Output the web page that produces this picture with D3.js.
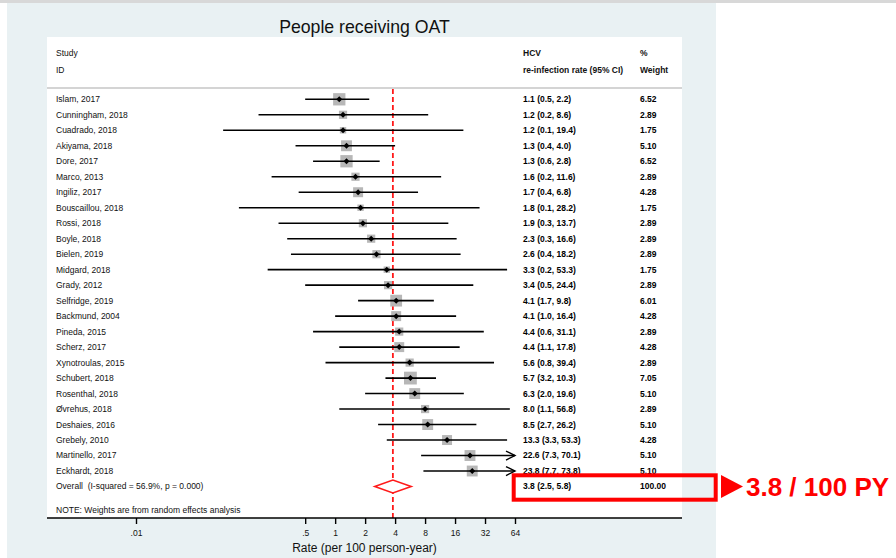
<!DOCTYPE html>
<html>
<head>
<meta charset="utf-8">
<script src="https://cdn.jsdelivr.net/npm/d3@7"></script>
<style>
  body { margin: 0; background: #fff; }
  svg { display: block; font-family: "Liberation Sans", Arial, sans-serif; }
</style>
</head>
<body>
<div id="chart"></div>
<script>
// study rows, top to bottom
const studies = ["Islam, 2017", "Cunningham, 2018", "Cuadrado, 2018", "Akiyama, 2018", "Dore, 2017",
    "Marco, 2013", "Ingiliz, 2017", "Bouscaillou, 2018", "Rossi, 2018", "Boyle, 2018", "Bielen, 2019",
    "Midgard, 2018", "Grady, 2012", "Selfridge, 2019", "Backmund, 2004", "Pineda, 2015", "Scherz, 2017",
    "Xynotroulas, 2015", "Schubert, 2018", "Rosenthal, 2018", "Øvrehus, 2018", "Deshaies, 2016",
    "Grebely, 2010", "Martinello, 2017", "Eckhardt, 2018"];
const rate = [1.1, 1.2, 1.2, 1.3, 1.3, 1.6, 1.7, 1.8, 1.9, 2.3, 2.6, 3.3, 3.4, 4.1, 4.1, 4.4, 4.4,
    5.6, 5.7, 6.3, 8.0, 8.5, 13.3, 22.6, 23.8];
const lower = [0.5, 0.17, 0.075, 0.4, 0.6, 0.23, 0.43, 0.108, 0.27, 0.33, 0.36, 0.21, 0.5, 1.7, 1.0,
    0.6, 1.1, 0.8, 3.2, 2.0, 1.1, 2.7, 3.3, 7.3, 7.7];
const upper = [2.2, 8.6, 19.4, 4.0, 2.8, 11.6, 6.8, 28.2, 13.7, 16.6, 18.2, 53.3, 24.4, 9.8, 16.4,
    31.1, 17.8, 39.4, 10.3, 19.6, 56.8, 26.2, 53.3, 70.1, 73.8];
const weight = [6.52, 2.89, 1.75, 5.10, 6.52, 2.89, 4.28, 1.75, 2.89, 2.89, 2.89, 1.75, 2.89, 6.01,
    4.28, 2.89, 4.28, 2.89, 7.05, 5.10, 2.89, 5.10, 4.28, 5.10, 5.10];

const overall = { rate: 3.8, lower: 2.5, upper: 5.8, weight: 100 };
const overallLabel = "Overall  (I-squared = 56.9%, p = 0.000)";
const xTicks = [0.01, 0.5, 1, 2, 4, 8, 16, 32, 64];
const note = "NOTE: Weights are from random effects analysis";

const width = 896, height = 558;
const panel = { left: 47, right: 682, top: 37, bottom: 518 };
const colStudy = 56, colRate = 523, colWeight = 640;

const rows = studies.map((s, i) => ({
    name: s, rate: rate[i], lower: lower[i], upper: upper[i], weight: weight[i]
}));

const x = d3.scaleLog().base(2)
    .domain([d3.min(xTicks), d3.max(xTicks)])
    .range([136, 515]);
const xMax = d3.max(xTicks);

const y = d3.scalePoint()
    .domain(d3.range(rows.length + 1))
    .range([99.3, 486.5]);

const boxSize = d3.scaleSqrt().domain([0, 7.05]).range([0, 12.8]);

const svg = d3.select("#chart").append("svg")
    .attr("width", width)
    .attr("height", height);

// backgrounds
svg.append("rect").attr("x", 7).attr("y", 0).attr("width", 709).attr("height", height)
    .attr("fill", "#e9f1f3");
svg.append("rect").attr("x", 0).attr("y", 0).attr("width", width).attr("height", 3)
    .attr("fill", "#d8d8d8");
svg.append("rect")
    .attr("x", panel.left).attr("y", panel.top)
    .attr("width", panel.right - panel.left).attr("height", panel.bottom - panel.top)
    .attr("fill", "#fff");

svg.append("text")
    .attr("x", (panel.left + panel.right) / 2)
    .attr("y", 27)
    .attr("dy", "0.35em")
    .attr("text-anchor", "middle")
    .style("font-size", "17.7px")
    .attr("fill", "#111")
    .text("People receiving OAT");

// header
const header = [
    { x: colStudy, lines: ["Study", "ID"], bold: false },
    { x: colRate, lines: ["HCV", "re-infection rate (95% CI)"], bold: true },
    { x: colWeight, lines: ["%", "Weight"], bold: true }
];
header.forEach(h => {
    h.lines.forEach((t, k) => {
        svg.append("text")
            .attr("x", h.x).attr("y", 53 + k * 17)
            .attr("dy", "0.35em")
            .style("font-size", "8.5px")
            .style("font-weight", h.bold ? "bold" : "normal")
            .attr("fill", "#111")
            .text(t);
    });
});

svg.append("line")
    .attr("x1", panel.left).attr("x2", panel.right)
    .attr("y1", 88).attr("y2", 88)
    .attr("stroke", "#d4d4d4").attr("stroke-width", 2);

// reference line at overall estimate
svg.append("line")
    .attr("x1", x(overall.rate)).attr("x2", x(overall.rate))
    .attr("y1", 89).attr("y2", panel.bottom)
    .attr("stroke", "#ff1a1a").attr("stroke-width", 1.8)
    .attr("stroke-dasharray", "5,3");

// weight boxes
svg.append("g").selectAll("rect")
    .data(rows).enter().append("rect")
    .attr("x", d => x(d.rate) - boxSize(d.weight) / 2)
    .attr("y", (d, i) => y(i) - boxSize(d.weight) / 2)
    .attr("width", d => boxSize(d.weight))
    .attr("height", d => boxSize(d.weight))
    .attr("fill", "#b7b7b7");

// confidence intervals
const ci = svg.append("g").selectAll("g")
    .data(rows).enter().append("g");
ci.append("line")
    .attr("x1", d => x(d.lower))
    .attr("x2", d => x(Math.min(d.upper, xMax)))
    .attr("y1", (d, i) => y(i)).attr("y2", (d, i) => y(i))
    .attr("stroke", "#000").attr("stroke-width", 1.6);
ci.filter(d => d.upper > xMax).append("path")
    .attr("d", d => {
        const i = rows.indexOf(d), xe = x(xMax), ye = y(i);
        return `M${xe - 9},${ye - 4.5}L${xe},${ye}L${xe - 9},${ye + 4.5}`;
    })
    .attr("fill", "none").attr("stroke", "#000").attr("stroke-width", 1.4);

// point estimates
svg.append("g").selectAll("path")
    .data(rows).enter().append("path")
    .attr("d", d3.symbol(d3.symbolSquare, 18))
    .attr("transform", (d, i) => `translate(${x(d.rate)},${y(i)}) rotate(45)`)
    .attr("fill", "#000");

// overall diamond
const yo = y(rows.length);
svg.append("path")
    .attr("d", `M${x(overall.lower)},${yo}L${x(overall.rate)},${yo - 6.5}L${x(overall.upper)},${yo}L${x(overall.rate)},${yo + 6.5}Z`)
    .attr("fill", "#fff").attr("stroke", "#ff1a1a").attr("stroke-width", 1.6);

// text columns
const fmtCi = d => `${d.rate.toFixed(1)} (${d.lower.toFixed(1)}, ${d.upper.toFixed(1)})`;
const textRows = rows.concat([{ name: overallLabel, ...overall }]);
const tg = svg.append("g").style("font-size", "8.5px");
tg.selectAll("text.study").data(textRows).enter().append("text")
    .attr("x", colStudy).attr("y", (d, i) => y(i)).attr("dy", "0.35em")
    .style("white-space", "pre")
    .attr("fill", "#111").text(d => d.name);
tg.selectAll("text.rate").data(textRows).enter().append("text")
    .attr("x", colRate).attr("y", (d, i) => y(i)).attr("dy", "0.35em")
    .style("font-weight", "bold").attr("fill", "#000").text(fmtCi);
tg.selectAll("text.weight").data(textRows).enter().append("text")
    .attr("x", colWeight).attr("y", (d, i) => y(i)).attr("dy", "0.35em")
    .style("font-weight", "bold").attr("fill", "#000").text(d => d.weight.toFixed(2));

svg.append("text")
    .attr("x", colStudy).attr("y", 510).attr("dy", "0.35em")
    .style("font-size", "8.5px").attr("fill", "#111")
    .text(note);

// x axis
svg.append("line")
    .attr("x1", panel.left).attr("x2", panel.right)
    .attr("y1", panel.bottom).attr("y2", panel.bottom)
    .attr("stroke", "#000").attr("stroke-width", 1.4);
const axisG = svg.append("g")
    .attr("transform", `translate(0,${panel.bottom})`)
    .call(d3.axisBottom(x)
        .tickValues(xTicks)
        .tickSize(6)
        .tickPadding(6)
        .tickFormat(d => d < 1 ? String(d).replace(/^0/, "") : String(d)));
axisG.select(".domain").remove();
axisG.selectAll(".tick line").attr("stroke", "#000").attr("stroke-width", 1.4);
axisG.selectAll(".tick text")
    .attr("fill", "#111")
    .style("font-size", "8.5px")
    .style("font-family", "'Liberation Sans', Arial, sans-serif");

svg.append("text")
    .attr("x", 364.5).attr("y", 548).attr("dy", "0.35em")
    .attr("text-anchor", "middle")
    .style("font-size", "12px").attr("fill", "#111")
    .text("Rate (per 100 person-year)");

// highlight of the pooled estimate
svg.append("rect")
    .attr("x", 513.7).attr("y", 475.3)
    .attr("width", 202).attr("height", 24.4)
    .attr("fill", "none").attr("stroke", "#f00").attr("stroke-width", 4);
svg.append("path")
    .attr("d", "M721,475L743,486.5L721,498Z")
    .attr("fill", "#f00");
svg.append("text")
    .attr("x", 746).attr("y", 487).attr("dy", "0.36em")
    .style("font-size", "26px").style("font-weight", "bold")
    .attr("fill", "#f00")
    .text(`${overall.rate} / 100 PY`);
</script>
</body>
</html>
